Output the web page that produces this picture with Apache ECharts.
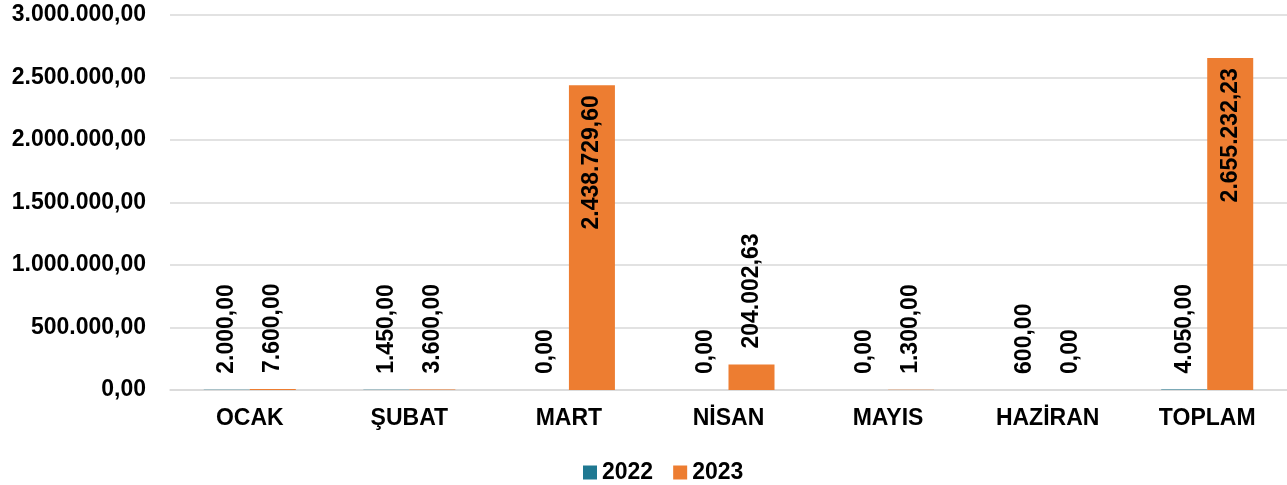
<!DOCTYPE html>
<html>
<head>
<meta charset="utf-8">
<script src="https://cdn.jsdelivr.net/npm/echarts@6/dist/echarts.min.js"></script>
<style>
  html, body { margin: 0; padding: 0; background: #fff; }
  #chart { width: 1287px; height: 485px; }
</style>
</head>
<body>
<div id="chart"></div>
<script>
// aylar ve değerler
var months = ['OCAK', 'ŞUBAT', 'MART', 'NİSAN', 'MAYIS', 'HAZİRAN', 'TOPLAM'];
var values2022 = [2000, 1450, 0, 0, 0, 600, 4050];
var values2023 = [7600, 3600, 2438729.60, 204002.63, 1300, 0, 2655232.23];
var seriesNames = ['2022', '2023'];

// Türkçe sayı biçimi: 1.234.567,89
function fmt(v) {
    var parts = Number(v).toFixed(2).split('.');
    parts[0] = parts[0].replace(/\B(?=(\d{3})+(?!\d))/g, '.');
    return parts.join(',');
}

var font = '"Liberation Sans", Arial, sans-serif';

// büyük barlarda etiket içeride, küçüklerde üstte
function makeData(arr) {
    return arr.map(function (v) {
        if (v > 1000000) {
            return {
                value: v,
                label: { position: 'insideTop', align: 'right', distance: 10 }
            };
        }
        return v;
    });
}

var myChart = echarts.init(document.getElementById('chart'));

var option = {
    animation: false,
    textStyle: { fontFamily: font },
    grid: { left: 170, top: 15, width: 1124, height: 375, containLabel: false },
    legend: {
        top: 456,
        left: 578,
        itemWidth: 14,
        itemHeight: 14,
        itemGap: 20,
        icon: 'rect',
        textStyle: { fontSize: 23, fontWeight: 'bold', color: '#000', fontFamily: font },
        data: seriesNames
    },
    xAxis: {
        type: 'category',
        data: months,
        axisLine: { lineStyle: { color: '#d9d9d9', width: 1.5 } },
        axisTick: { show: false },
        axisLabel: { fontSize: 23, fontWeight: 'bold', color: '#000', margin: 17, fontFamily: font }
    },
    yAxis: {
        type: 'value',
        min: 0,
        max: 3000000,
        interval: 500000,
        axisLine: { show: false },
        axisTick: { show: false },
        splitLine: { lineStyle: { color: '#d9d9d9', width: 1.5 } },
        axisLabel: {
            fontSize: 23, fontWeight: 'bold', color: '#000', margin: 24, fontFamily: font,
            formatter: fmt
        }
    },
    series: [{
        name: seriesNames[0],
        type: 'bar',
        data: makeData(values2022),
        barWidth: 46,
        barGap: '0%',
        itemStyle: { color: '#1f7891' },
        label: {
            show: true, position: 'top', rotate: 90, align: 'left', verticalAlign: 'middle',
            distance: 16, fontSize: 23, fontWeight: 'bold', color: '#000', fontFamily: font,
            formatter: function (p) { return fmt(p.value); }
        }
    }, {
        name: seriesNames[1],
        type: 'bar',
        data: makeData(values2023),
        barWidth: 46,
        barGap: '0%',
        itemStyle: { color: '#ed7d31' },
        label: {
            show: true, position: 'top', rotate: 90, align: 'left', verticalAlign: 'middle',
            distance: 16, fontSize: 23, fontWeight: 'bold', color: '#000', fontFamily: font,
            formatter: function (p) { return fmt(p.value); }
        }
    }]
};

myChart.setOption(option);
</script>
</body>
</html>
